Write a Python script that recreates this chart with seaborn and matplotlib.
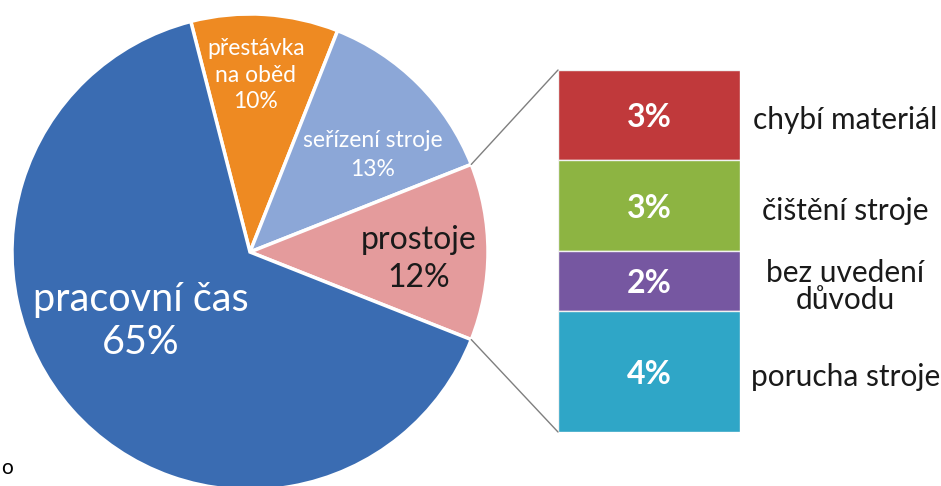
import numpy as np
import matplotlib
matplotlib.use("Agg")
import matplotlib.pyplot as plt
import seaborn as sns
from matplotlib.patches import ConnectionPatch

# ---------------- data ----------------
pie_labels = ["pracovní čas", "přestávka\nna oběd", "seřízení stroje", "prostoje"]
pie_values = [65, 10, 13, 12]
pie_colors = ["#3A6CB2", "#EE8A22", "#8CA7D7", "#E49B9C"]

bar_labels = ["chybí materiál", "čištění stroje", "bez uvedení\ndůvodu", "porucha stroje"]
bar_values = [3, 3, 2, 4]
bar_colors = ["#C0393B", "#8DB442", "#7657A1", "#2FA6C7"]

# ---------------- style ----------------
sns.set_theme(style="white")
plt.rcParams['font.family'] = ['Lato', 'DejaVu Sans']

W, H = 941, 486
fig = plt.figure(figsize=(W / 100, H / 100), dpi=100)
ax = fig.add_axes([0, 0, 1, 1])

# pie geometry (pixel-like data coordinates, y up)
cx, cy, R = 250, H - 252, 238

# order of drawing: clockwise from the top break, "prostoje" centred on 0 deg
order = [1, 2, 3, 0]
explode_by_idx = {0: 0.02, 1: 0.02, 2: 0.0, 3: 0.0}
vals = [pie_values[i] for i in order]
cols = [pie_colors[i] for i in order]
expl = [explode_by_idx[i] for i in order]
total = float(sum(pie_values))
start = (pie_values[3] / 2 + pie_values[2] + pie_values[1]) / total * 360

wedges, _ = ax.pie(vals, colors=cols, startangle=start, counterclock=False,
                   center=(cx, cy), radius=R, explode=expl,
                   wedgeprops=dict(edgecolor="white", linewidth=2.5))
ax.set_xlim(0, W)
ax.set_ylim(0, H)
ax.set_aspect("equal")
ax.axis("off")

# pie labels (polar placement relative to each wedge's middle angle)
label_style = {
    0: dict(frac=0.542, dang=-9.1, size=28.5, color="white", ls=1.2),
    1: dict(frac=0.744, dang=1.7, size=16.5, color="white", ls=1.3),
    2: dict(frac=0.658, dang=-6.7, size=16.5, color="white", ls=1.45),
    3: dict(frac=0.71, dang=-2.4, size=23, color="#1a1a1a", ls=1.3),
}
for w, i in zip(wedges, order):
    st = label_style[i]
    mid = np.deg2rad((w.theta1 + w.theta2) / 2 + st["dang"])
    x = cx + st["frac"] * R * np.cos(mid)
    y = cy + st["frac"] * R * np.sin(mid)
    ax.text(x, y, f"{pie_labels[i]}\n{pie_values[i]}%", ha="center", va="center",
            fontsize=st["size"], color=st["color"], linespacing=st["ls"])

# ---------------- stacked bar ----------------
bx0, bx1, by_top, by_bot = 558, 740, 70, 432
ax2 = fig.add_axes([bx0 / W, (H - by_bot) / H, (bx1 - bx0) / W, (by_bot - by_top) / H])
bottoms = np.concatenate([np.cumsum(bar_values[::-1])[::-1][1:], [0]])
for lab, v, b, c in zip(bar_labels, bar_values, bottoms, bar_colors):
    sns.barplot(x=[0], y=[v], bottom=b, color=c, saturation=1, width=1,
                edgecolor="#f2f2f2", linewidth=1, ax=ax2)
    ax2.text(0, b + v / 2 - 0.08, f"{v}%", ha="center", va="center", color="white",
             fontsize=23, fontweight="bold")
    ax2.text(1.08, b + v / 2 - 0.17, lab, ha="center", va="center", color="#1a1a1a",
             fontsize=21.5, clip_on=False, linespacing=0.95)
ax2.set_xlim(-0.5, 0.5)
ax2.set_ylim(0, sum(bar_values))
ax2.axis("off")

# connector lines from the "prostoje" wedge to the bar
pw = wedges[order.index(3)]
for ang, ycorner in [(pw.theta1, 0), (pw.theta2, sum(bar_values))]:
    a = np.deg2rad(ang)
    p = (cx + R * np.cos(a), cy + R * np.sin(a))
    con = ConnectionPatch(xyA=p, coordsA=ax.transData, xyB=(-0.5, ycorner),
                          coordsB=ax2.transData, color="#7f7f7f", lw=1)
    fig.add_artist(con)

# stray character at the bottom left of the original
ax.text(1, H - 468, "o", ha="left", va="center", fontsize=15, color="black")

fig.savefig("out.png", dpi=100)
